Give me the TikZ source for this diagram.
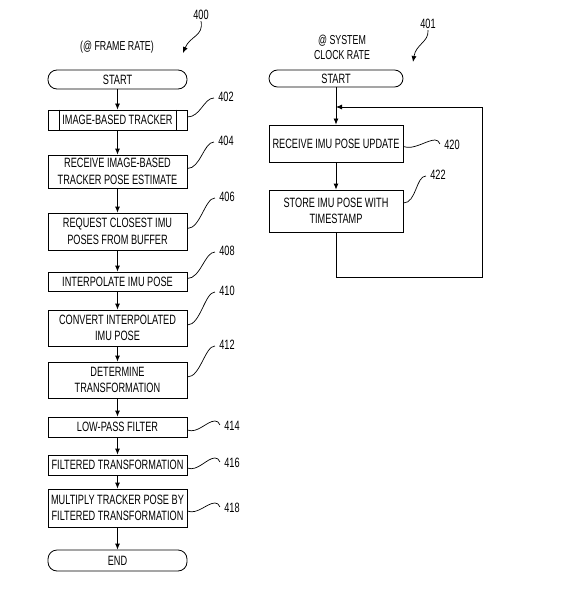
\documentclass[tikz,border=0pt]{standalone}
\usepackage{fontspec}
\setmainfont[FakeStretch=0.68]{Liberation Sans}
\usetikzlibrary{arrows.meta}
\begin{document}
\begin{tikzpicture}[x=1pt,y=-1pt,
  line width=0.8pt,
  box/.style={draw, minimum width=139pt, align=center, inner sep=0pt, font=\fontsize{13.5}{16.5}\selectfont},
  rbox/.style={box, minimum width=134pt},
  term/.style={box, rounded corners=9pt},
  lbl/.style={inner sep=1pt, font=\fontsize{13.5}{15}\selectfont},
  txt/.style={inner sep=0pt, align=center, font=\fontsize{13}{15}\selectfont},
  arr/.style={-{Latex[length=6pt,width=5pt]}},
  lead/.style={line width=0.7pt}]
\useasboundingbox (0,0) rectangle (571,607);
% left column
\node[term, minimum height=19pt] (s0) at (117.5,79.5) {START};
\node[box, minimum height=20pt] (n402) at (117.5,120) {IMAGE-BASED TRACKER};
\draw ([xshift=12pt]n402.north west) -- ([xshift=12pt]n402.south west);
\draw ([xshift=-11pt]n402.north east) -- ([xshift=-11pt]n402.south east);
\node[box, minimum height=33pt] (n404) at (117.5,171.5) {RECEIVE IMAGE-BASED\\TRACKER POSE ESTIMATE};
\node[box, minimum height=37pt] (n406) at (117.5,231.5) {REQUEST CLOSEST IMU\\POSES FROM BUFFER};
\node[box, minimum height=19pt] (n408) at (117.5,281.5) {INTERPOLATE IMU POSE};
\node[box, minimum height=36pt] (n410) at (117.5,328) {CONVERT INTERPOLATED\\IMU POSE};
\node[box, minimum height=36pt] (n412) at (117.5,380) {DETERMINE\\TRANSFORMATION};
\node[box, minimum height=20pt] (n414) at (117.5,427) {LOW-PASS FILTER};
\node[box, minimum height=20pt] (n416) at (117.5,465) {FILTERED TRANSFORMATION};
\node[box, minimum height=38pt] (n418) at (117.5,508) {MULTIPLY TRACKER POSE BY\\FILTERED TRANSFORMATION};
\node[term, minimum height=21pt] (e0) at (117.5,560.5) {END};
\foreach \a/\b in {s0/n402,n402/n404,n404/n406,n406/n408,n408/n410,n410/n412,n412/n414,n414/n416,n416/n418,n418/e0}
  \draw[arr] (\a) -- (\b);
% right column
\node[term, rbox, minimum height=17pt, rounded corners=8.5pt] (r0) at (336,78.5) {START};
\node[rbox, minimum height=37pt] (n420) at (336,143.5) {RECEIVE IMU POSE UPDATE};
\node[rbox, minimum height=42pt] (n422) at (336,211) {STORE IMU POSE WITH\\TIMESTAMP};
\coordinate (j) at (336,107);
\coordinate (c1) at (336,277);
\coordinate (c2) at (482,277);
\coordinate (c3) at (482,107);
\draw[arr] (r0) -- (n420);
\draw[arr] (n420) -- (n422);
\draw[arr] (n422.south) -- (c1) -- (c2) -- (c3) -- (j);
% headers
\node[txt] (hf) at (117,47) {(@ FRAME RATE)};
\node[txt] (hs) at (342,47.5) {@ SYSTEM\\CLOCK RATE};
\node[lbl] (l400) at (201,15) {400};
\node[lbl] (l401) at (428,24) {401};
\coordinate (a400) at (183,53);
\coordinate (a401) at (413,62);
\draw[lead, arr] (l400.south) .. controls (204,36) and (190,36) .. (a400);
\draw[lead, arr] (l401.south) .. controls (429,42) and (416,44) .. (a401);
% reference labels
\node[lbl] (l402) at (226,97) {402};
\node[lbl] (l404) at (226,141) {404};
\node[lbl] (l406) at (227,197) {406};
\node[lbl] (l408) at (227,251) {408};
\node[lbl] (l410) at (227,291) {410};
\node[lbl] (l412) at (227,345) {412};
\node[lbl] (l414) at (232,426) {414};
\node[lbl] (l416) at (232,463) {416};
\node[lbl] (l418) at (232,508) {418};
\node[lbl] (l420) at (452,145) {420};
\node[lbl] (l422) at (438,175) {422};
\foreach \n in {402,404,406,408,410,412}
  \draw[lead] ([yshift=3pt]n\n.east) .. controls +(13,0) and +(-10,0) .. ([xshift=-3pt,yshift=-1pt]l\n.west);
\draw[lead] ([yshift=8pt]n422.east) .. controls +(13,0) and +(-10,0) .. ([xshift=-3pt,yshift=-1pt]l422.west);
\foreach \n in {414,416,418,420}
  \draw[lead] ([yshift=-3pt]n\n.east) .. controls +(10,4) and +(-8,0) .. ([xshift=-8pt,yshift=5pt]l\n.west)
    .. controls +(3,0) and +(-2,-3) .. ([xshift=-3pt,yshift=1pt]l\n.west);
\end{tikzpicture}
\end{document}
